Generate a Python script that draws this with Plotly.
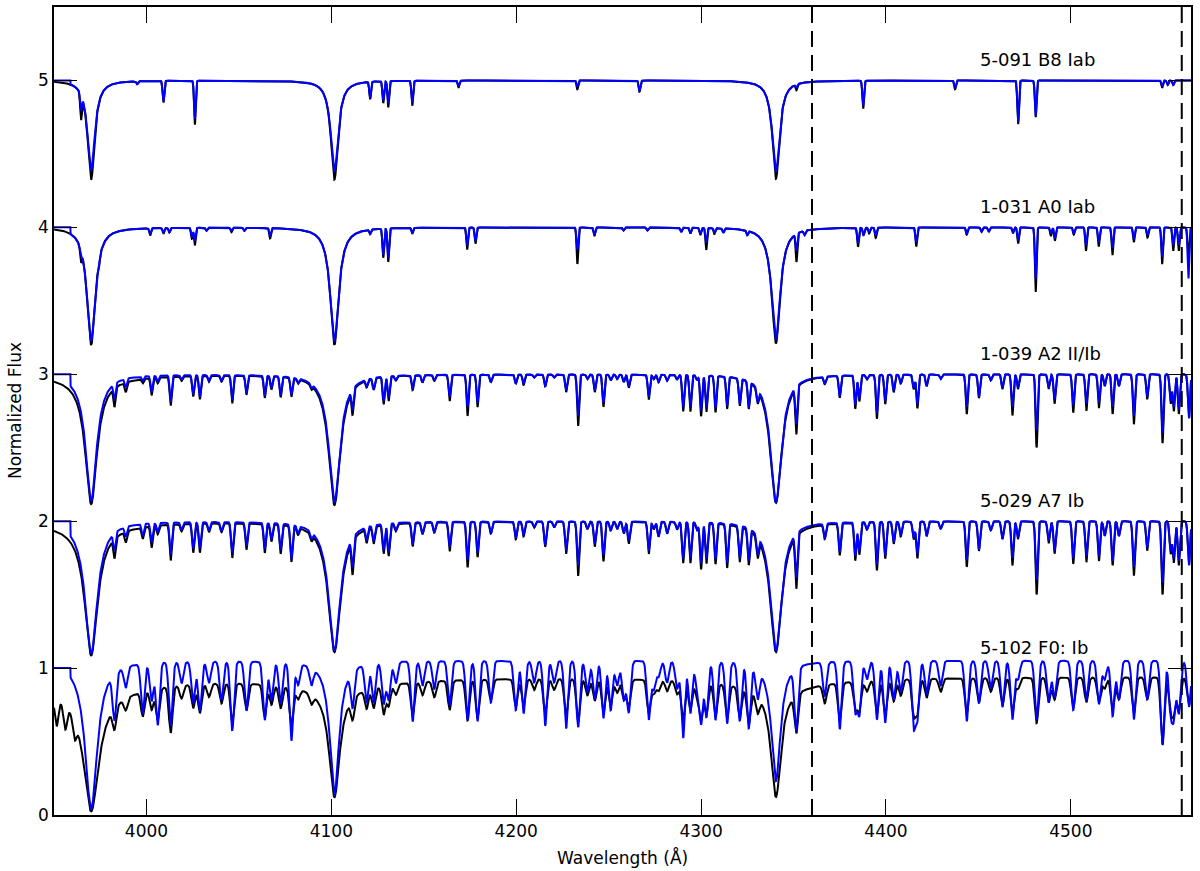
import numpy as np
import plotly.graph_objects as go

# ---------------- data ----------------
offsets = [4, 3, 2, 1, 0]
labels = ["5-091 B8 Iab", "1-031 A0 Iab", "1-039 A2 II/Ib", "5-029 A7 Ib", "5-102 F0: Ib"]
label_wl = 4450.0
label_dy = 1.14
dashed_wl = [4360.0, 4560.0]
model_start = 3959.0
x_ticks = [4000, 4100, 4200, 4300, 4400, 4500]
y_ticks = [0, 1, 2, 3, 4, 5]

balmer_wl = [3970.1, 4101.7, 4340.5]

# Balmer line depth / half width (A) for observed (black) and model (blue)
b8_bal_obs = [0.675, 0.675, 0.67]; b8_balw_obs = [2.3, 2.3, 2.3]
b8_bal_mod = [0.61, 0.62, 0.62];   b8_balw_mod = [2.4, 2.4, 2.4]
a0_bal_obs = [0.80, 0.80, 0.79];   a0_balw_obs = [2.7, 2.7, 2.7]
a0_bal_mod = [0.77, 0.77, 0.76];   a0_balw_mod = [2.8, 2.8, 2.8]
a2_bal_obs = [0.88, 0.89, 0.875];  a2_balw_obs = [3.8, 3.8, 3.8]
a2_bal_mod = [0.86, 0.87, 0.87];   a2_balw_mod = [3.6, 3.6, 3.6]
a7_bal_obs = [0.91, 0.89, 0.89];   a7_balw_obs = [4.2, 4.0, 3.8]
a7_bal_mod = [0.90, 0.88, 0.88];   a7_balw_mod = [4.0, 3.8, 3.6]
f0_bal_obs = [0.97, 0.86, 0.86];   f0_balw_obs = [5.0, 3.5, 3.3]
f0_bal_mod = [0.96, 0.87, 0.78];   f0_balw_mod = [4.0, 3.0, 3.0]

# broad wing depressions of the observed spectra
a2_wide_obs = [0.03, 0.0, 0.0]
a7_wide_obs = [0.04, 0.01, 0.01]
f0_wide_obs = [0.12, 0.07, 0.07]
no_wide = [0.0, 0.0, 0.0]

# continua
f0_cont_obs = 0.94
f0_cont_mod = 1.05

# B8 metal / He lines
b8_wl = [3964.6, 3995.0, 4009.2, 4026.2, 4121.0, 4128.1, 4130.8, 4143.8, 4168.8, 4233.1,
         4266.7, 4351.6, 4387.7, 4437.4, 4471.5, 4481.0, 4549.4, 4552.4, 4555.4]
b8_obs = [0.19, 0.02, 0.15, 0.30, 0.12, 0.15, 0.18, 0.17, 0.05, 0.06,
          0.075, 0.04, 0.19, 0.06, 0.30, 0.25, 0.05, 0.03, 0.03]
b8_mod = [0.12, 0.02, 0.14, 0.26, 0.11, 0.13, 0.15, 0.15, 0.04, 0.04,
          0.07, 0.02, 0.17, 0.05, 0.28, 0.24, 0.04, 0.03, 0.03]

# A0 lines
a0_wl = [3964.6, 3974.2, 4002.0, 4009.2, 4012.4, 4024.6, 4026.2, 4032.5, 4046.0, 4053.0,
         4066.9, 4121.0, 4128.1, 4130.8, 4143.8, 4173.5, 4178.0, 4233.1, 4242.3, 4258.0,
         4271.0, 4289.2, 4294.2, 4299.6, 4302.8, 4307.2, 4312.0, 4325.0, 4351.6, 4356.0,
         4384.9, 4387.9, 4390.9, 4394.5, 4416.4, 4443.7, 4451.7, 4455.6, 4468.7, 4471.5,
         4481.0, 4489.2, 4491.4, 4501.6, 4508.2, 4515.1, 4522.5, 4534.1, 4541.5, 4549.4,
         4555.4, 4558.4, 4563.6]
a0_obs = [0.10, 0.06, 0.05, 0.04, 0.03, 0.075, 0.12, 0.02, 0.03, 0.02,
          0.07, 0.03, 0.20, 0.23, 0.04, 0.15, 0.11, 0.25, 0.06, 0.02,
          0.02, 0.03, 0.04, 0.05, 0.15, 0.04, 0.03, 0.03, 0.20, 0.03,
          0.13, 0.05, 0.04, 0.07, 0.13, 0.05, 0.03, 0.03, 0.04, 0.11,
          0.44, 0.06, 0.09, 0.05, 0.16, 0.13, 0.19, 0.10, 0.07, 0.25,
          0.16, 0.16, 0.20]
a0_mod = [0.05, 0.04, 0.04, 0.03, 0.03, 0.06, 0.09, 0.02, 0.02, 0.02,
          0.05, 0.03, 0.18, 0.20, 0.03, 0.12, 0.09, 0.15, 0.05, 0.02,
          0.02, 0.03, 0.04, 0.04, 0.10, 0.03, 0.03, 0.03, 0.12, 0.03,
          0.10, 0.05, 0.03, 0.05, 0.10, 0.04, 0.03, 0.03, 0.03, 0.09,
          0.35, 0.04, 0.07, 0.04, 0.12, 0.10, 0.14, 0.08, 0.05, 0.20,
          0.12, 0.12, 0.35]

# common metal line list for A2, A7, F0
metal_wl = [3982.7, 3988.8, 3998.0, 4002.8, 4006.1, 4013.1, 4019.0, 4025.3, 4028.9, 4033.8,
            4040.6, 4046.4, 4054.1, 4064.0, 4067.6, 4072.6, 4078.4, 4082.0, 4089.2, 4111.5,
            4119.1, 4122.9, 4128.3, 4131.0, 4134.9, 4144.0, 4149.3, 4155.7, 4164.0, 4173.7,
            4179.1, 4186.3, 4199.8, 4204.0, 4209.7, 4215.7, 4220.5, 4227.0, 4233.5, 4238.5,
            4242.5, 4247.2, 4251.1, 4254.6, 4258.2, 4260.9, 4271.7, 4274.4, 4277.0, 4281.6,
            4287.0, 4290.3, 4294.2, 4297.8, 4300.0, 4302.9, 4307.8, 4314.1, 4320.9, 4325.8,
            4330.6, 4351.5, 4366.9, 4375.0, 4383.4, 4385.6, 4389.7, 4395.1, 4399.6, 4404.2,
            4408.0, 4415.0, 4417.0, 4422.0, 4429.6, 4443.7, 4450.3, 4456.7, 4463.0, 4468.4,
            4471.4, 4481.5, 4488.0, 4491.2, 4501.3, 4508.4, 4515.2, 4518.3, 4522.6, 4526.0,
            4534.1, 4541.3, 4549.6, 4554.0, 4555.7, 4558.4, 4563.9]
a2_obs = [0.14, 0.07, 0.03, 0.12, 0.04, 0.20, 0.03, 0.14, 0.16, 0.04,
          0.04, 0.19, 0.13, 0.15, 0.09, 0.14, 0.13, 0.03, 0.03, 0.18,
          0.05, 0.08, 0.19, 0.17, 0.03, 0.10, 0.05, 0.04, 0.18, 0.28,
          0.22, 0.05, 0.06, 0.07, 0.02, 0.08, 0.02, 0.12, 0.35, 0.03,
          0.12, 0.22, 0.04, 0.03, 0.05, 0.09, 0.17, 0.03, 0.05, 0.04,
          0.03, 0.25, 0.25, 0.03, 0.28, 0.25, 0.25, 0.22, 0.19, 0.19,
          0.10, 0.35, 0.05, 0.15, 0.23, 0.18, 0.03, 0.30, 0.20, 0.12,
          0.06, 0.10, 0.23, 0.08, 0.03, 0.27, 0.16, 0.04, 0.10, 0.28,
          0.10, 0.50, 0.10, 0.20, 0.26, 0.25, 0.23, 0.08, 0.27, 0.08,
          0.34, 0.17, 0.47, 0.20, 0.25, 0.27, 0.30]
a2_mod = [0.12, 0.06, 0.03, 0.11, 0.04, 0.18, 0.03, 0.13, 0.15, 0.04,
          0.04, 0.17, 0.12, 0.14, 0.08, 0.13, 0.12, 0.03, 0.03, 0.15,
          0.05, 0.08, 0.17, 0.15, 0.03, 0.09, 0.05, 0.04, 0.15, 0.22,
          0.19, 0.05, 0.06, 0.06, 0.02, 0.08, 0.02, 0.11, 0.28, 0.03,
          0.11, 0.19, 0.04, 0.03, 0.05, 0.08, 0.15, 0.03, 0.05, 0.04,
          0.03, 0.22, 0.22, 0.03, 0.24, 0.22, 0.22, 0.20, 0.18, 0.18,
          0.10, 0.28, 0.05, 0.14, 0.20, 0.16, 0.03, 0.26, 0.18, 0.11,
          0.06, 0.09, 0.20, 0.08, 0.03, 0.22, 0.15, 0.04, 0.09, 0.22,
          0.09, 0.38, 0.09, 0.17, 0.21, 0.20, 0.19, 0.08, 0.22, 0.08,
          0.28, 0.15, 0.40, 0.18, 0.22, 0.24, 0.30]
a7_obs = [0.15, 0.08, 0.08, 0.15, 0.06, 0.25, 0.05, 0.20, 0.20, 0.06,
          0.06, 0.24, 0.18, 0.20, 0.12, 0.20, 0.25, 0.05, 0.05, 0.26,
          0.10, 0.12, 0.20, 0.22, 0.05, 0.16, 0.08, 0.07, 0.20, 0.31,
          0.24, 0.08, 0.12, 0.10, 0.04, 0.17, 0.04, 0.22, 0.37, 0.05,
          0.17, 0.27, 0.06, 0.05, 0.08, 0.15, 0.22, 0.05, 0.10, 0.08,
          0.05, 0.28, 0.28, 0.05, 0.32, 0.28, 0.28, 0.30, 0.25, 0.25,
          0.15, 0.40, 0.10, 0.22, 0.26, 0.22, 0.05, 0.33, 0.25, 0.15,
          0.10, 0.12, 0.25, 0.10, 0.05, 0.31, 0.20, 0.06, 0.12, 0.30,
          0.12, 0.50, 0.15, 0.22, 0.29, 0.28, 0.27, 0.10, 0.30, 0.10,
          0.37, 0.20, 0.50, 0.22, 0.28, 0.30, 0.30]
a7_mod = [0.13, 0.07, 0.08, 0.13, 0.06, 0.22, 0.05, 0.18, 0.18, 0.06,
          0.06, 0.21, 0.16, 0.18, 0.11, 0.18, 0.24, 0.05, 0.05, 0.22,
          0.09, 0.11, 0.18, 0.20, 0.05, 0.15, 0.08, 0.07, 0.17, 0.26,
          0.21, 0.08, 0.11, 0.09, 0.04, 0.16, 0.04, 0.20, 0.30, 0.05,
          0.15, 0.23, 0.06, 0.05, 0.08, 0.13, 0.20, 0.05, 0.10, 0.08,
          0.05, 0.25, 0.25, 0.05, 0.28, 0.25, 0.25, 0.27, 0.23, 0.23,
          0.14, 0.33, 0.10, 0.20, 0.23, 0.20, 0.05, 0.29, 0.23, 0.14,
          0.09, 0.11, 0.22, 0.10, 0.05, 0.26, 0.19, 0.06, 0.12, 0.25,
          0.11, 0.40, 0.13, 0.20, 0.25, 0.24, 0.24, 0.10, 0.27, 0.10,
          0.31, 0.18, 0.42, 0.20, 0.25, 0.27, 0.30]
f0_obs = [0.20, 0.10, 0.20, 0.16, 0.25, 0.36, 0.10, 0.18, 0.22, 0.10,
          0.15, 0.30, 0.20, 0.25, 0.15, 0.17, 0.30, 0.08, 0.08, 0.18,
          0.15, 0.16, 0.22, 0.16, 0.08, 0.25, 0.10, 0.12, 0.22, 0.30,
          0.28, 0.15, 0.20, 0.20, 0.08, 0.25, 0.08, 0.28, 0.32, 0.12,
          0.16, 0.25, 0.20, 0.10, 0.15, 0.20, 0.25, 0.10, 0.08, 0.08,
          0.10, 0.30, 0.22, 0.10, 0.28, 0.24, 0.25, 0.26, 0.24, 0.27,
          0.14, 0.32, 0.14, 0.28, 0.20, 0.22, 0.08, 0.25, 0.26, 0.16,
          0.12, 0.26, 0.24, 0.14, 0.10, 0.26, 0.18, 0.10, 0.20, 0.26,
          0.08, 0.33, 0.18, 0.16, 0.22, 0.18, 0.18, 0.08, 0.24, 0.16,
          0.26, 0.16, 0.49, 0.22, 0.24, 0.24, 0.20]
f0_mod = [0.33, 0.14, 0.33, 0.25, 0.41, 0.42, 0.14, 0.27, 0.32, 0.14,
          0.25, 0.45, 0.32, 0.38, 0.25, 0.27, 0.51, 0.14, 0.12, 0.25,
          0.25, 0.26, 0.27, 0.24, 0.14, 0.39, 0.16, 0.18, 0.29, 0.38,
          0.39, 0.27, 0.32, 0.34, 0.14, 0.42, 0.14, 0.44, 0.43, 0.20,
          0.25, 0.37, 0.32, 0.16, 0.25, 0.33, 0.38, 0.18, 0.10, 0.14,
          0.18, 0.50, 0.34, 0.16, 0.40, 0.36, 0.38, 0.40, 0.38, 0.42,
          0.20, 0.42, 0.22, 0.44, 0.32, 0.34, 0.12, 0.38, 0.40, 0.25,
          0.20, 0.42, 0.36, 0.22, 0.16, 0.39, 0.27, 0.18, 0.30, 0.38,
          0.12, 0.38, 0.27, 0.24, 0.32, 0.26, 0.28, 0.12, 0.36, 0.25,
          0.38, 0.25, 0.54, 0.32, 0.34, 0.34, 0.30]
# extra features at the blue end of the observed F0 spectrum
f0_extra_wl = [3951.4, 3956.1, 3961.2]
f0_extra_obs = [0.24, 0.22, 0.20]

for arr in (a2_obs, a2_mod, a7_obs, a7_mod, f0_obs, f0_mod):
    assert len(arr) == len(metal_wl)
assert len(a0_obs) == len(a0_wl) == len(a0_mod)
assert len(b8_obs) == len(b8_wl) == len(b8_mod)

# ---------------- rendering ----------------
wl = np.arange(3950.0, 4565.01, 0.15)


def spectrum(level, cont, bdep, bw, wide, wide_w, lwl, ldep, sigma, model=False):
    f = np.full_like(wl, cont)
    for c, d, w in zip(balmer_wl, bdep, bw):
        f *= 1 - d / (1 + ((wl - c) / w) ** 2)
    for c, d in zip(balmer_wl, wide):
        f *= 1 - d / (1 + ((wl - c) / wide_w) ** 2)
    for c, d in zip(lwl, ldep):
        f *= 1 - d * np.exp(-0.5 * ((wl - c) / sigma) ** 2)
    if model:
        f = np.where(wl < model_start, 1.0, f)
    return level + f


stars = [
    dict(obs=spectrum(offsets[0], 1.0, b8_bal_obs, b8_balw_obs, no_wide, 30, b8_wl, b8_obs, 0.45),
         mod=spectrum(offsets[0], 1.0, b8_bal_mod, b8_balw_mod, no_wide, 30, b8_wl, b8_mod, 0.45, True)),
    dict(obs=spectrum(offsets[1], 1.0, a0_bal_obs, a0_balw_obs, no_wide, 30, a0_wl, a0_obs, 0.45),
         mod=spectrum(offsets[1], 1.0, a0_bal_mod, a0_balw_mod, no_wide, 30, a0_wl, a0_mod, 0.45, True)),
    dict(obs=spectrum(offsets[2], 1.0, a2_bal_obs, a2_balw_obs, a2_wide_obs, 30, metal_wl, a2_obs, 0.55),
         mod=spectrum(offsets[2], 1.0, a2_bal_mod, a2_balw_mod, no_wide, 30, metal_wl, a2_mod, 0.55, True)),
    dict(obs=spectrum(offsets[3], 1.0, a7_bal_obs, a7_balw_obs, a7_wide_obs, 30, metal_wl, a7_obs, 0.6),
         mod=spectrum(offsets[3], 1.0, a7_bal_mod, a7_balw_mod, no_wide, 30, metal_wl, a7_mod, 0.6, True)),
    dict(obs=spectrum(offsets[4], f0_cont_obs, f0_bal_obs, f0_balw_obs, f0_wide_obs, 35,
                      metal_wl + f0_extra_wl, f0_obs + f0_extra_obs, 1.0),
         mod=spectrum(offsets[4], f0_cont_mod, f0_bal_mod, f0_balw_mod, no_wide, 35,
                      metal_wl, f0_mod, 1.0, True)),
]

FONT = "DejaVu Sans, sans-serif"

fig = go.Figure()
for s in stars:
    fig.add_trace(go.Scatter(x=wl, y=s["obs"], mode="lines",
                             line=dict(color="#000000", width=2), showlegend=False))
    fig.add_trace(go.Scatter(x=wl, y=s["mod"], mode="lines",
                             line=dict(color="#0000ff", width=2), showlegend=False))

for xd in dashed_wl:
    fig.add_shape(type="line", xref="x", yref="paper", x0=xd, x1=xd, y0=0, y1=1,
                  line=dict(color="black", width=2, dash="16px,8px"))

for off, lab in zip(offsets, labels):
    fig.add_annotation(x=label_wl, y=off + label_dy, text=lab, showarrow=False,
                       xanchor="left", yanchor="middle",
                       font=dict(family=FONT, size=18, color="black"))

fig.add_annotation(xref="paper", yref="paper", x=0.5, y=0, yshift=-42,
                   text="Wavelength (Å)", showarrow=False, xanchor="center", yanchor="middle",
                   font=dict(family=FONT, size=17, color="black"))
fig.add_annotation(xref="paper", yref="paper", x=0, y=0.5, xshift=-39,
                   text="Normalized Flux", showarrow=False, textangle=-90,
                   xanchor="center", yanchor="middle",
                   font=dict(family=FONT, size=17, color="black"))

fig.update_layout(
    width=1200, height=871,
    margin=dict(l=54, r=9, t=5, b=56),
    paper_bgcolor="white", plot_bgcolor="white",
    font=dict(family=FONT, size=17, color="black"),
)
fig.update_xaxes(range=[3950, 4565], tickvals=x_ticks, ticks="inside", ticklen=16,
                 tickwidth=1.3, tickcolor="black", showline=True, linecolor="black",
                 linewidth=1.5, mirror="ticks", showgrid=False, zeroline=False,
                 tickfont=dict(family=FONT, size=17, color="black"))
fig.update_yaxes(range=[0, 5.5], tickvals=y_ticks, ticks="inside", ticklen=23,
                 tickwidth=1.3, tickcolor="black", showline=True, linecolor="black",
                 linewidth=1.5, mirror="ticks", showgrid=False, zeroline=False,
                 tickfont=dict(family=FONT, size=17, color="black"))

fig.write_html("out.html", config={"displayModeBar": False},
               post_script="document.body.style.margin='0';document.body.style.padding='0';")
